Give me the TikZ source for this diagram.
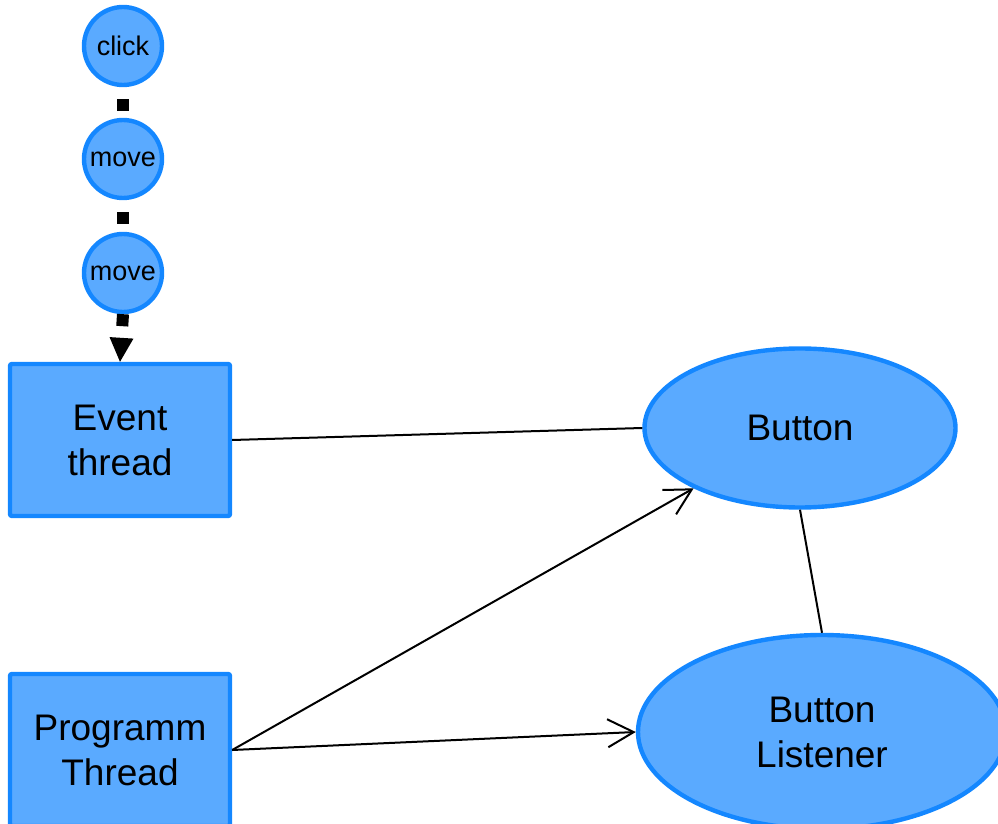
\documentclass[tikz,border=0pt]{standalone}
\usepackage{fontspec}
\setmainfont{Liberation Sans}
\usetikzlibrary{arrows.meta,shapes.geometric}
\definecolor{nodefill}{RGB}{90,170,255}
\definecolor{nodeline}{RGB}{20,135,255}

\begin{document}
\begin{tikzpicture}[x=0.5pt, y=-0.5pt,
    evnt/.style={circle, draw=nodeline, fill=nodefill, line width=2.2pt,
        minimum size=39pt, inner sep=0pt, font=\fontsize{13.5}{15}\selectfont},
    thrd/.style={rectangle, rounded corners=1pt, draw=nodeline, fill=nodefill,
        line width=2.2pt, minimum width=110pt, minimum height=76pt, align=center,
        font=\fontsize{18.5}{22.5}\selectfont},
    obj/.style={ellipse, draw=nodeline, fill=nodefill, line width=2.2pt,
        inner sep=0pt, align=center, font=\fontsize{18.5}{22.5}\selectfont},
    queue/.style={line width=6pt, dash pattern=on 6pt off 6pt},
    link/.style={line width=1pt},
    >={Straight Barb[length=13pt,width=14pt]}]
            \clip (0,0) rectangle (998,824);
            % events waiting in the queue
            \node[evnt] (click) at (123,46) {click};
            \node[evnt] (move1) at (123,159) {move};
            \node[evnt] (move2) at (123,273) {move};
            % threads
            \node[thrd] (evt) at (120,440) {Event\\thread};
            \node[thrd] (prog) at (120,750) {Programm\\Thread};
            % objects
            \node[obj, minimum width=155.5pt, minimum height=79.5pt] (btn) at (800,428) {Button};
            \node[obj, minimum width=184pt, minimum height=97pt] (lst) at (822,732) {Button\\Listener};
            \draw[queue, dash phase=6pt] (click.south) -- (move1.north);
            \draw[queue, dash phase=6pt] (move1.south) -- (move2.north);
            \draw[queue, -{Triangle[length=12pt,width=12pt,line width=0pt]}] (move2.south) -- (evt.north);
            \draw[link] (evt.east) -- (btn.west);
            \draw[link] (btn.south) -- (lst.north);
            \draw[link, ->] (prog.east) -- (btn);
            \draw[link, ->] (prog.east) -- (lst.west);
        \end{tikzpicture}
\end{document}
